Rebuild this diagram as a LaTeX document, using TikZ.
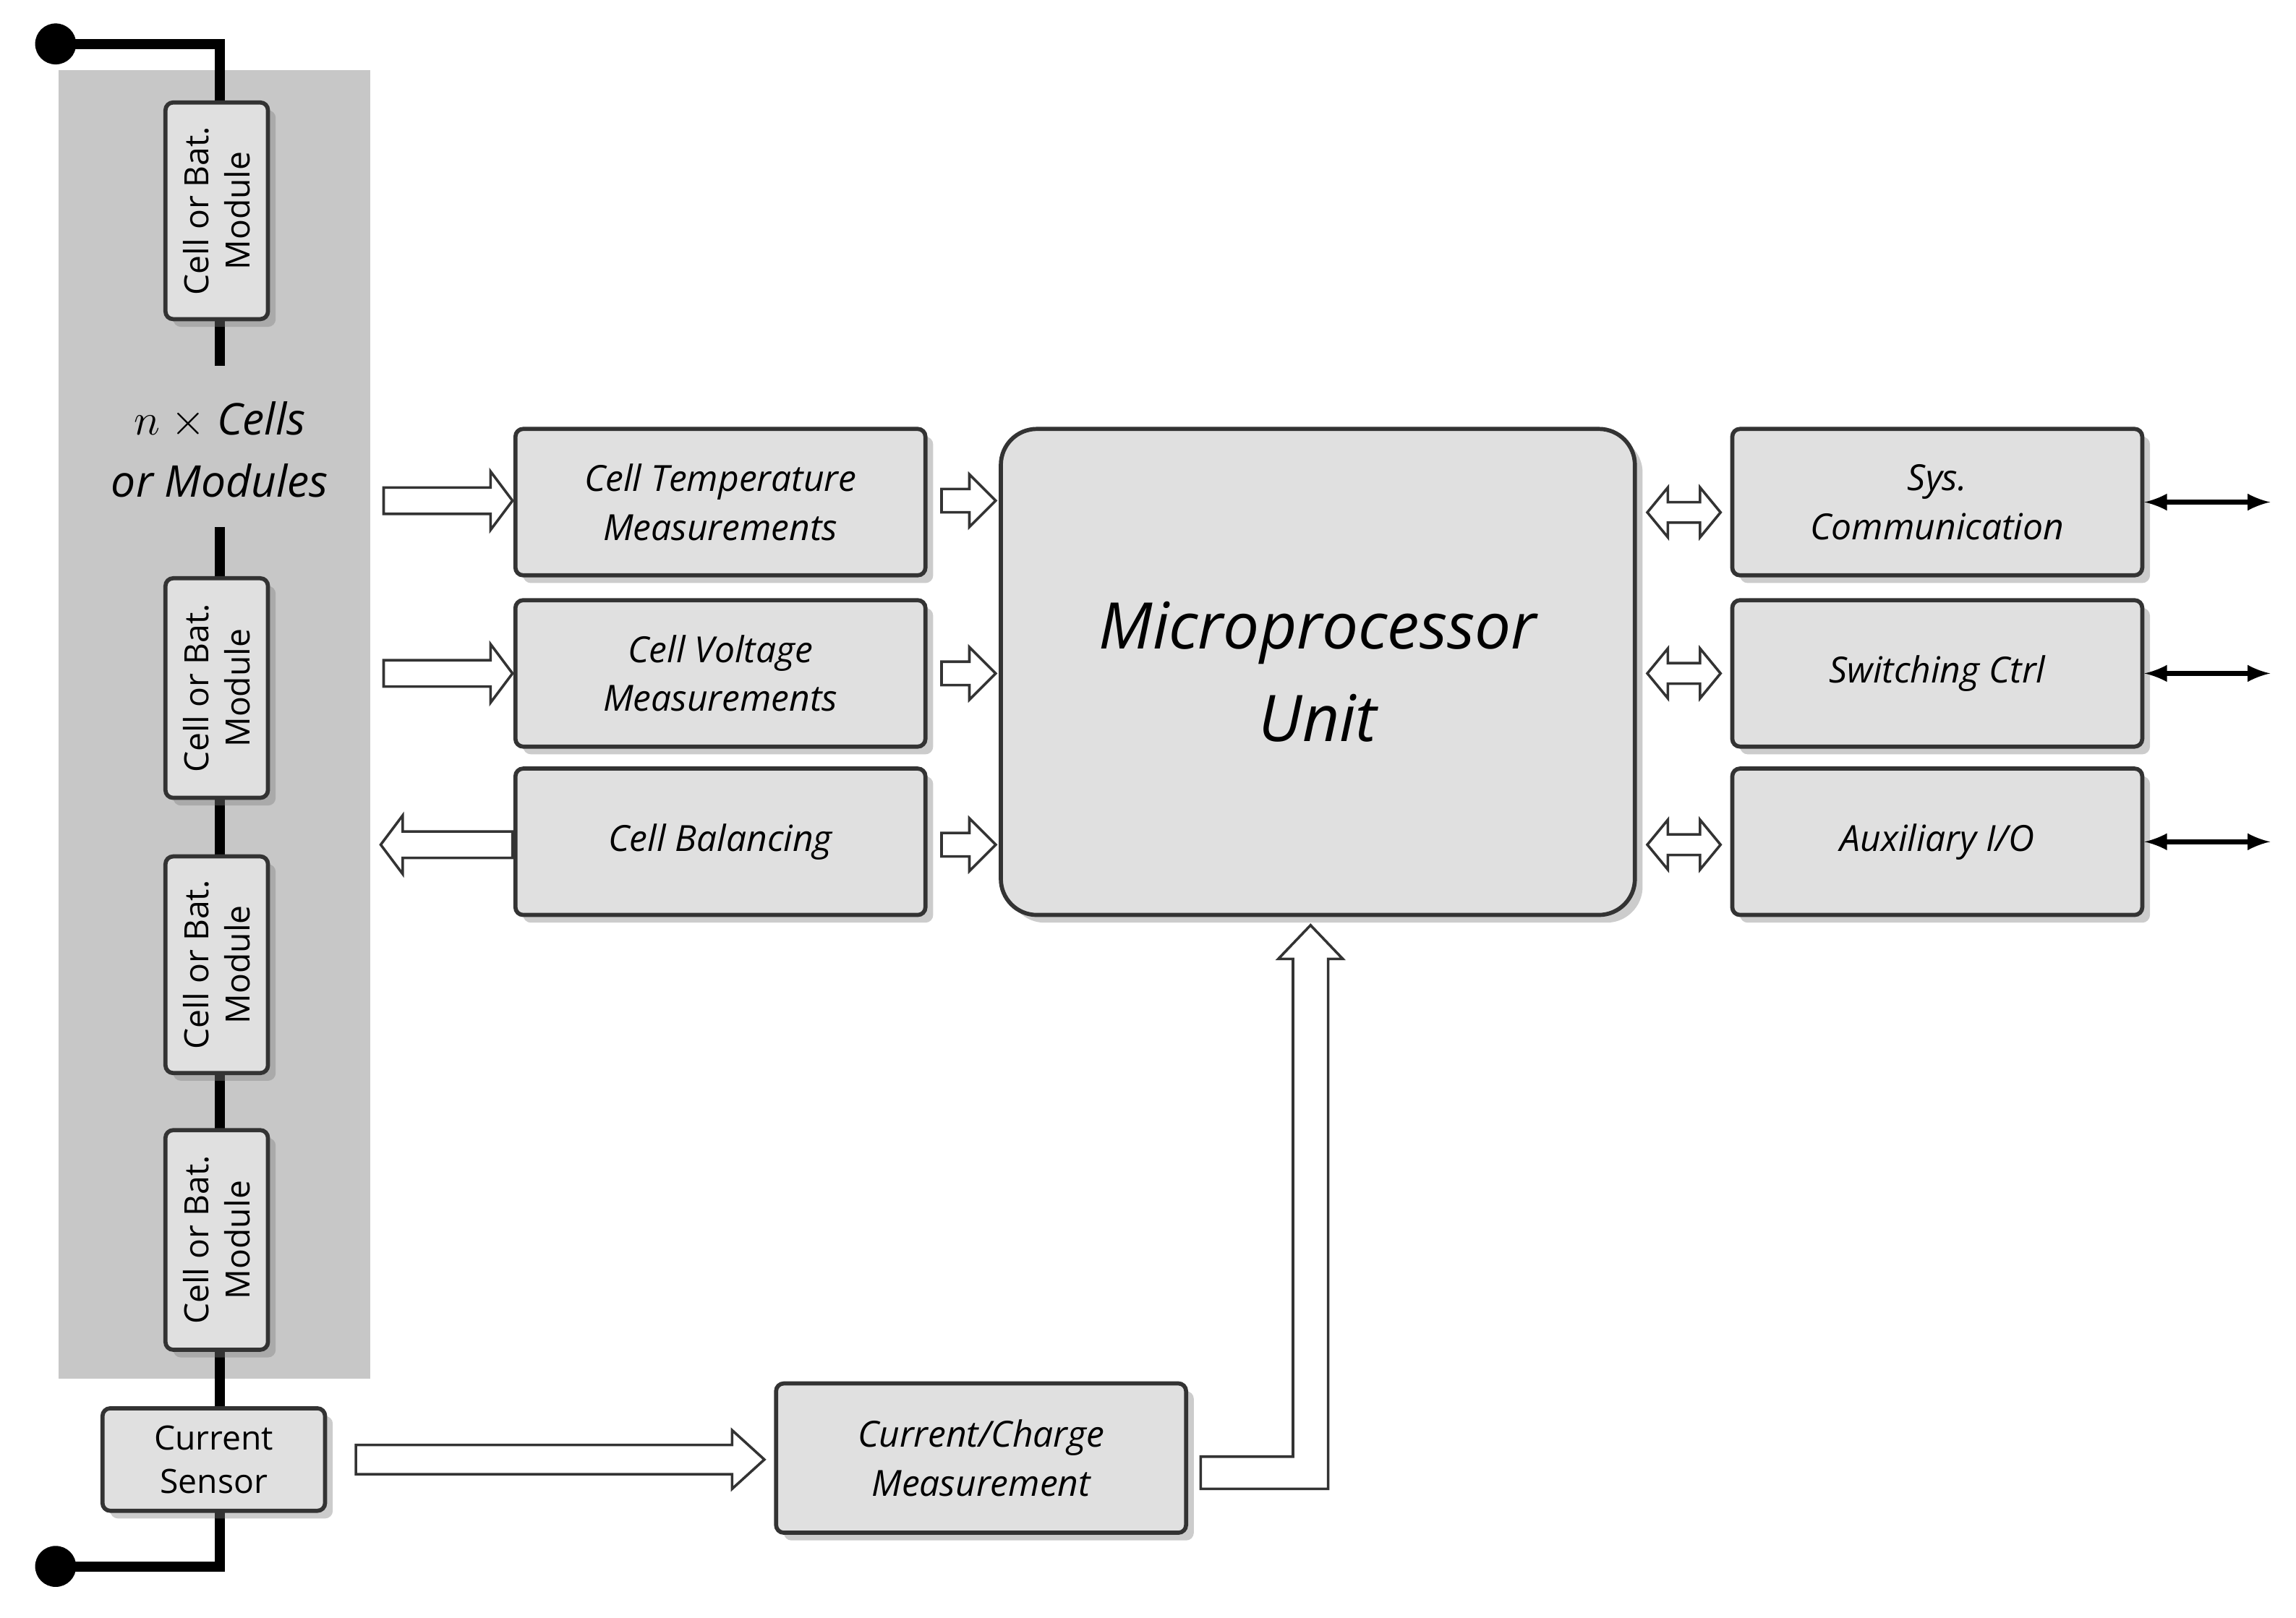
\documentclass[tikz,border=0pt]{standalone}
\usepackage{fontspec}
\setmainfont{Open Sans}
\usetikzlibrary{shadows}
\begin{document}
\begin{tikzpicture}[x=0.02cm,y=-0.02cm,
  box/.style={draw=black!80,line width=1.6pt,fill=black!12,rounded corners=3pt,drop shadow={shadow xshift=3pt,shadow yshift=-3pt,opacity=0.4},align=center,font=\fontsize{14}{19}\selectfont\itshape},
  cell/.style={draw=black!80,line width=1.6pt,fill=black!12,rounded corners=3pt,drop shadow={shadow xshift=3pt,shadow yshift=-3pt,opacity=0.4}},
  wire/.style={line width=4pt,black},
  ha/.style={draw=black!80,line width=1pt,fill=white}]
\newcommand\harr[6]{% x1 x2 y shafthalf headhalf headlen (right)
 \path[ha] (#1,{#3-#4})--({#2-#6},{#3-#4})--({#2-#6},{#3-#5})--(#2,#3)--({#2-#6},{#3+#5})--({#2-#6},{#3+#4})--(#1,{#3+#4})--cycle;}
\newcommand\larr[6]{% x1(head) x2 y
 \path[ha] (#2,{#3-#4})--({#1+#6},{#3-#4})--({#1+#6},{#3-#5})--(#1,#3)--({#1+#6},{#3+#5})--({#1+#6},{#3+#4})--(#2,{#3+#4})--cycle;}
\newcommand\darr[6]{%
 \path[ha] ({#1+#6},{#3-#4})--({#2-#6},{#3-#4})--({#2-#6},{#3-#5})--(#2,#3)--({#2-#6},{#3+#5})--({#2-#6},{#3+#4})--({#1+#6},{#3+#4})--({#1+#6},{#3+#5})--(#1,#3)--({#1+#6},{#3-#5})--cycle;}
\useasboundingbox (0,0) rectangle (1568,1105);
\fill[black!22] (40,48) rectangle (253,942);
% wires
\coordinate (t1) at (38,30); \coordinate (t2) at (38,1070);
\draw[wire] (t1) -- (150,30) -- (150,80);
\draw[wire] (150,210) -- (150,250);
\draw[wire] (150,360) -- (150,985);
\draw[wire] (150,1020) -- (150,1070) -- (t2);
\fill (t1) circle (14); \fill (t2) circle (14);
% cells
\foreach \n/\ya/\yb in {c1/70/218,c2/395/545,c3/585/733,c4/772/922}{
 \node[cell,minimum width=70*0.02cm,minimum height={(\yb-\ya)*0.02cm}] (\n) at (148,{(\ya+\yb)/2}) {};
 \node[rotate=90,align=center,font=\fontsize{13}{16}\selectfont] at (\n) {Cell or Bat.\\Module};}
\node[font=\fontsize{17}{24}\selectfont\itshape,align=center] (nx) at (150,307) {$n$ $\times$ Cells\\or Modules};
\node[box,font=\fontsize{13}{17}\selectfont,minimum width=152*0.02cm,minimum height=70*0.02cm] (cs) at (146,997) {Current\\Sensor};
% middle boxes
\node[box,minimum width=280*0.02cm,minimum height=100*0.02cm] (temp) at (492,343) {Cell Temperature\\Measurements};
\node[box,minimum width=280*0.02cm,minimum height=100*0.02cm] (volt) at (492,460) {Cell Voltage\\Measurements};
\node[box,minimum width=280*0.02cm,minimum height=100*0.02cm] (bal) at (492,575) {Cell Balancing};
\node[box,rounded corners=14pt,minimum width=433*0.02cm,minimum height=332*0.02cm,font=\fontsize{25}{36}\selectfont\itshape] (mpu) at (900,459) {Microprocessor\\Unit};
\node[box,minimum width=280*0.02cm,minimum height=100*0.02cm] (sys) at (1323,343) {Sys.\\Communication};
\node[box,minimum width=280*0.02cm,minimum height=100*0.02cm] (sw) at (1323,460) {Switching Ctrl};
\node[box,minimum width=280*0.02cm,minimum height=100*0.02cm] (aux) at (1323,575) {Auxiliary I/O};
\node[box,minimum width=280*0.02cm,minimum height=102*0.02cm] (cc) at (670,996) {Current/Charge\\Measurement};
% block arrows
\harr{262}{350}{342}{9}{20}{15}
\harr{262}{350}{460}{9}{20}{15}
\larr{260}{350}{577}{9}{20}{15}
\foreach \y in {342,460,577}{\harr{643}{680}{\y}{8}{18}{18}}
\foreach \y in {350,460,577}{\darr{1125}{1175}{\y}{7}{17}{14}}
\harr{243}{522}{997}{10}{20}{22}
\path[ha] (820,995)--(883,995)--(883,655)--(873,655)--(895,632)--(917,655)--(907,655)--(907,1017)--(820,1017)--cycle;
% thin arrows
\foreach \n in {sys,sw,aux}{\draw[line width=2pt,<->,>=latex] (\n.east) -- ++(86,0);}
\end{tikzpicture}
\end{document}
